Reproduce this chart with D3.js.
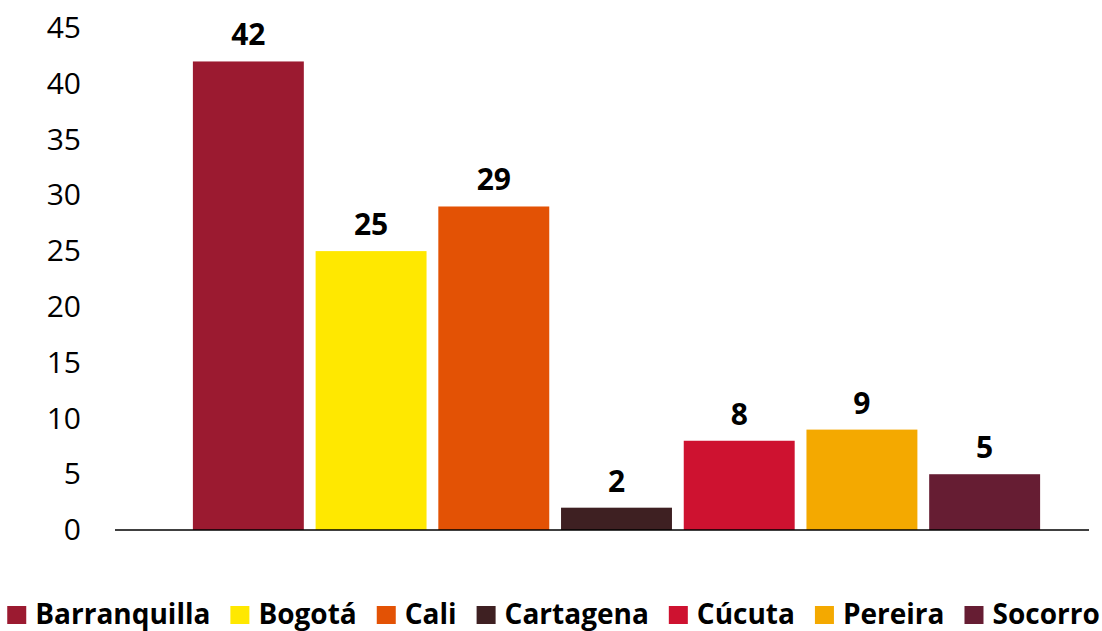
<!DOCTYPE html>
<html>
<head>
<meta charset="utf-8">
<script src="https://cdn.jsdelivr.net/npm/d3@7"></script>
<style>
  body { margin: 0; background: #fff; }
  svg text { font-family: "Open Sans", sans-serif; fill: #000; }
</style>
</head>
<body>
<svg id="chart" width="1102" height="631"></svg>
<script>
// data
const cities = ["Barranquilla", "Bogotá", "Cali", "Cartagena", "Cúcuta", "Pereira", "Socorro"];
const counts = [42, 25, 29, 2, 8, 9, 5];
const colors = ["#9b1a30", "#ffe800", "#e35205", "#3e2022", "#ce1230", "#f4a900", "#661d33"];
const yTicks = [0, 5, 10, 15, 20, 25, 30, 35, 40, 45];

const svg = d3.select("#chart");

const x = d3.scaleBand()
    .domain(cities)
    .range([187, 1046])
    .paddingInner(0.096)
    .paddingOuter(0.048);

const y = d3.scaleLinear()
    .domain([0, 45])
    .range([530, 28]);

// y axis, labels only
const yAxis = svg.append("g")
    .attr("transform", "translate(81,0)")
    .call(d3.axisLeft(y).tickValues(yTicks).tickSize(0).tickPadding(0));
yAxis.select(".domain").remove();
yAxis.selectAll("text")
    .style("font-family", "'Open Sans', sans-serif")
    .style("font-size", "30px")
    .attr("fill", "#000")
    .attr("dy", "0.32em");

// bars
svg.append("g")
  .selectAll("rect")
  .data(cities)
  .enter()
  .append("rect")
    .attr("x", d => x(d))
    .attr("y", (d, i) => y(counts[i]))
    .attr("width", x.bandwidth())
    .attr("height", (d, i) => y(0) - y(counts[i]))
    .attr("fill", (d, i) => colors[i]);

// baseline
svg.append("line")
    .attr("x1", 115)
    .attr("x2", 1089)
    .attr("y1", y(0))
    .attr("y2", y(0))
    .attr("stroke", "#000")
    .attr("stroke-width", 1.5);

// value labels
svg.append("g")
  .selectAll("text")
  .data(cities)
  .enter()
  .append("text")
    .attr("x", d => x(d) + x.bandwidth() / 2)
    .attr("y", (d, i) => y(counts[i]) - 16)
    .attr("text-anchor", "middle")
    .style("font-size", "30px")
    .style("font-weight", "bold")
    .text((d, i) => counts[i]);

// legend, laid out left to right then centred
const legend = svg.append("g");
const items = legend.selectAll("g")
    .data(cities)
    .enter()
    .append("g");

items.append("rect")
    .attr("y", 606)
    .attr("width", 19)
    .attr("height", 18)
    .attr("fill", (d, i) => colors[i]);

items.append("text")
    .attr("x", 28)
    .attr("y", 624)
    .style("font-size", "28px")
    .style("font-weight", "bold")
    .text(d => d);

const gap = 20;
let xpos = 0;
items.each(function() {
  const g = d3.select(this);
  const w = 28 + g.select("text").node().getComputedTextLength();
  g.attr("transform", "translate(" + xpos + ",0)");
  xpos += w + gap;
});
const total = xpos - gap;
legend.attr("transform", "translate(" + (553.5 - total / 2) + ",0)");
</script>
</body>
</html>
